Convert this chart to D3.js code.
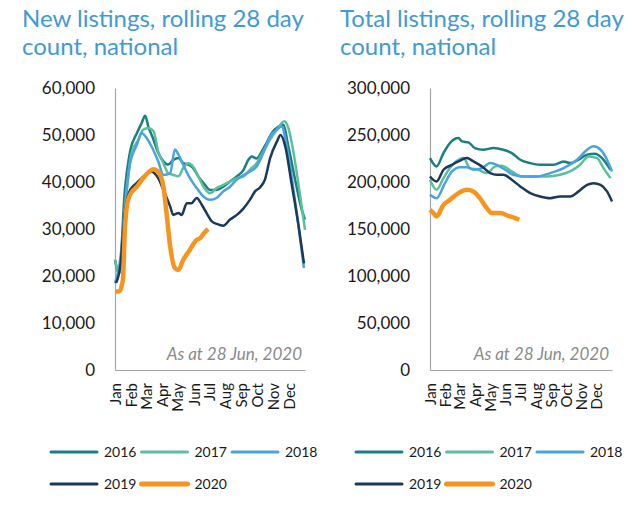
<!DOCTYPE html>
<html>
<head>
<meta charset="utf-8">
<script src="https://cdn.jsdelivr.net/npm/d3@7"></script>
<style>
body{margin:0;background:#fff}
svg text{font-family:Lato,'Open Sans',sans-serif}
</style>
</head>
<body>
<div id="chart"></div>
<script>
// values, [day of year, listings]
var months=['Jan','Feb','Mar','Apr','May','Jun','Jul','Aug','Sep','Oct','Nov','Dec']
var years=['2016','2017','2018','2019','2020']
var yTicksNew=[0,10000,20000,30000,40000,50000,60000]
var yTicksTotal=[0,50000,100000,150000,200000,250000,300000]

var newListings2016=[[0,23400],[8,20600],[19,38300],[29,46500],[42,50400],[51,52500],[58,54100],[64,51800],[74,49000],[83,46200],[93,44400],[102,43700],[112,44700],[122,45100],[131,44000],[141,43700],[150,43000],[160,41200],[170,39800],[183,38300],[195,38300],[208,39000],[221,40100],[234,41200],[247,42600],[256,44700],[263,45400],[272,45000],[282,46500],[291,48300],[301,50400],[314,51800],[323,52200],[333,47600],[346,40500],[359,34000],[365,32000]]
var newListings2017=[[0,23500],[8,20500],[22,38300],[32,46200],[45,49000],[54,51100],[64,51500],[74,50800],[83,46500],[93,44000],[102,41900],[112,41500],[122,41200],[131,43000],[141,44000],[150,43300],[160,41200],[170,39000],[183,37600],[195,38700],[208,39400],[221,40100],[234,40800],[247,41200],[259,42600],[272,44000],[285,46500],[298,49000],[311,51100],[325,52900],[333,51500],[343,46200],[355,37600],[365,29800]]
var newListings2018=[[0,18500],[10,23400],[19,34000],[29,44000],[42,47900],[51,50400],[61,49300],[70,47600],[83,44400],[93,41500],[106,41900],[115,46900],[122,45800],[131,43700],[144,40800],[157,38700],[170,36900],[183,36200],[195,36600],[208,38000],[221,39000],[234,40500],[247,41500],[259,42200],[272,43300],[285,46200],[298,49700],[311,51100],[320,51800],[330,47600],[343,38300],[355,28400],[363,21700]]
var newListings2019=[[2,18500],[10,22000],[19,33400],[29,38300],[42,39800],[58,41500],[70,42200],[83,40800],[93,38300],[106,34800],[112,33000],[122,33400],[128,33000],[138,35500],[147,35500],[157,36600],[167,35100],[176,33400],[186,31600],[195,31100],[208,30700],[221,32000],[234,33000],[247,34400],[259,36200],[269,38000],[279,38900],[288,40500],[298,45100],[311,48600],[318,50000],[327,47600],[339,39800],[352,31200],[363,22700]]
var newListings2020=[[0,16700],[8,16700],[15,19000],[19,30000],[23,35000],[29,37300],[42,39000],[54,40800],[74,42700],[83,42200],[93,39000],[99,33400],[106,26300],[115,21700],[122,21300],[131,23400],[144,25600],[157,27700],[163,28000],[170,29000],[179,30000]]

var totalListings2016=[[0,225400],[13,216600],[27,230800],[40,241400],[57,246700],[64,243200],[77,242100],[90,236100],[107,234300],[127,236100],[147,234300],[164,230800],[181,223700],[201,220100],[221,218300],[248,218300],[268,221900],[281,220100],[298,223700],[315,229000],[331,230000],[345,225400],[362,213000]]
var totalListings2017=[[0,202400],[13,191700],[27,204100],[40,214800],[57,223700],[67,225400],[80,214800],[97,213000],[114,209500],[131,216600],[144,217300],[164,211200],[184,205900],[208,205900],[234,205900],[261,207700],[281,211200],[301,218300],[318,227200],[335,225400],[348,214800],[362,204100]]
var totalListings2018=[[0,186400],[13,182800],[30,198800],[44,211200],[60,215800],[74,215800],[87,213000],[104,214800],[121,220100],[134,218300],[151,213000],[167,207700],[188,205900],[214,205900],[241,209500],[268,214800],[295,223700],[315,234300],[328,237900],[342,234300],[355,223700],[365,211200]]
var totalListings2019=[[0,205900],[13,200600],[27,213000],[44,218300],[57,221900],[74,225400],[87,221900],[104,216600],[121,209500],[134,207700],[147,207700],[164,202400],[181,195300],[201,188200],[221,184600],[241,182800],[261,184600],[281,184600],[298,190000],[315,197000],[328,198800],[342,197000],[355,190000],[365,179300]]
var totalListings2020=[[0,170400],[7,166900],[13,163300],[27,175700],[40,181000],[57,188200],[74,191700],[87,190000],[100,182800],[114,172200],[124,166900],[141,166900],[157,164000],[171,161500],[179,159800]]

var charts={
	colors:['#1a7f83','#5cbf99','#4aa3dc','#1b3a5a','#f7941d'],
	widths:[2.5,2.5,2.5,2.5,4.5],
	panels:[
		{title:['New listings, rolling 28 day','count, national'], titleX:22, left:115, right:305,
			max:60000, ticks:yTicksNew, legendX:50,
			series:[newListings2016,newListings2017,newListings2018,newListings2019,newListings2020]},
		{title:['Total listings, rolling 28 day','count, national'], titleX:340, left:430, right:612,
			max:300000, ticks:yTicksTotal, legendX:355,
			series:[totalListings2016,totalListings2017,totalListings2018,totalListings2019,totalListings2020]}
	],
	init:function(){
		var svg=d3.select('#chart').append('svg')
			.attr('width',634).attr('height',511)
		charts.panels.forEach(function(p){
			charts.logic.drawPanel(svg,p)
		})
	},
	logic:{
		drawPanel:function(svg,p){
			var top=88, bottom=370
			var jan1=new Date(2019,0,1)
			var monthStarts=d3.timeMonths(jan1,new Date(2020,0,1)).map(function(d){
				return d3.timeDay.count(jan1,d)
			})
			var x=d3.scaleLinear().domain([0,365]).range([p.left,p.right])
			var y=d3.scaleLinear().domain([0,p.max]).range([bottom,top])

			var g=svg.append('g')

			g.append('text')
				.attr('x',p.titleX).attr('y',27)
				.attr('font-size',24).attr('fill','#4199d6')
				.selectAll('tspan').data(p.title).enter().append('tspan')
				.attr('x',p.titleX).attr('dy',function(d,i){return i?28:0})
				.text(function(d){return d})

			var yAxis=g.append('g')
				.attr('transform','translate('+p.left+',0)')
				.call(d3.axisLeft(y).tickValues(p.ticks).tickSize(0).tickPadding(20).tickFormat(d3.format(',')))
			yAxis.select('.domain').attr('stroke','#a6a6a6').attr('stroke-width',1.2)
			yAxis.selectAll('text').attr('font-size',17).attr('fill','#1a1a1a')

			var xAxis=g.append('g')
				.attr('transform','translate(0,'+bottom+')')
				.call(d3.axisBottom(x).tickValues(monthStarts).tickSize(0).tickFormat(function(d,i){return months[i]}))
			xAxis.select('.domain').attr('stroke','#a6a6a6').attr('stroke-width',1.2)
			xAxis.selectAll('text')
				.attr('transform','rotate(-90)')
				.attr('x',-13).attr('y',0).attr('dy','0.36em')
				.style('text-anchor','end')
				.attr('font-size',15).attr('fill','#1a1a1a')

			g.append('text')
				.attr('x',p.right-3).attr('y',360)
				.attr('text-anchor','end')
				.attr('font-size',17).attr('font-style','italic').attr('fill','#8a8a8a')
				.text('As at 28 Jun, 2020')

			var line=d3.line()
				.x(function(d){return x(d[0])})
				.y(function(d){return y(d[1])})
				.curve(d3.curveMonotoneX)

			g.selectAll('.series').data(p.series).enter().append('path')
				.attr('class','series')
				.attr('fill','none')
				.attr('stroke',function(d,i){return charts.colors[i]})
				.attr('stroke-width',function(d,i){return charts.widths[i]})
				.attr('stroke-linejoin','round')
				.attr('d',line)

			var legend=g.selectAll('.legend').data(years).enter().append('g')
				.attr('class','legend')
				.attr('transform',function(d,i){
					return 'translate('+(p.legendX+(i%3)*90.5)+','+(i<3?452:484)+')'
				})
			legend.append('line')
				.attr('x1',1).attr('x2',47)
				.attr('stroke',function(d,i){return charts.colors[i]})
				.attr('stroke-width',function(d,i){return i==4?5:3})
				.attr('stroke-linecap','round')
			legend.append('text')
				.attr('x',54).attr('dy','0.36em')
				.attr('font-size',14).attr('fill','#1a1a1a')
				.text(function(d){return d})
		}
	}
}
charts.init()
</script>
</body>
</html>
